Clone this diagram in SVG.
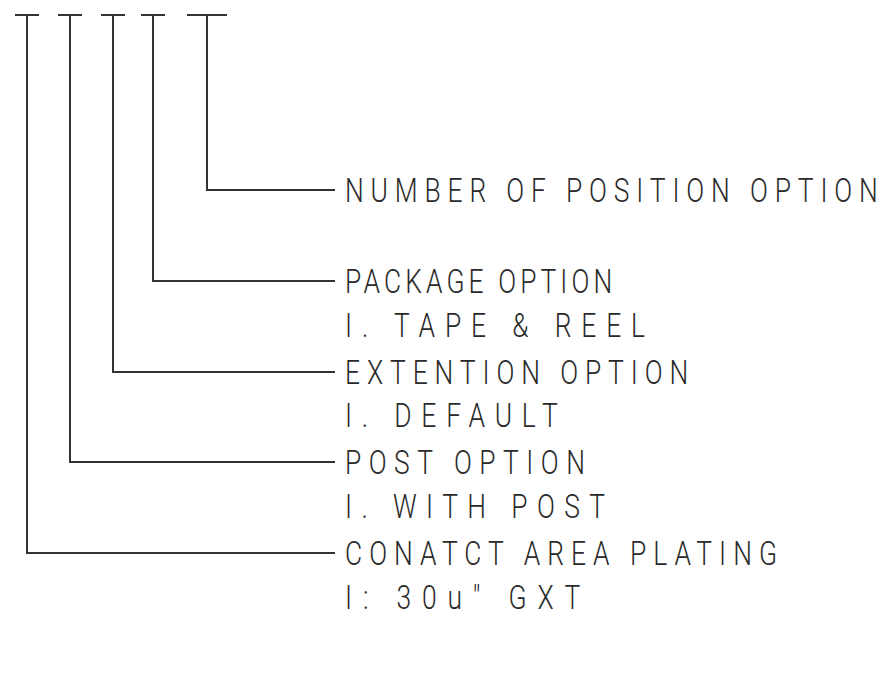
<svg xmlns="http://www.w3.org/2000/svg" width="889" height="675" viewBox="0 0 889 675">
<style>
.ln{fill:none;stroke:#333;stroke-width:2}
.t{font-family:Roboto,"Liberation Sans",sans-serif;font-weight:300;font-size:33px;fill:#2a2a2a}
</style>
<rect width="889" height="675" fill="#fff"/>
<g id="connectors">
<path class="ln" d="M15 15H39M27 15V553H335"/>
<path class="ln" d="M58 15H82M70 15V462H335"/>
<path class="ln" d="M101 15H125M113 15V372H335"/>
<path class="ln" d="M141 15H165M153 15V281H335"/>
<path class="ln" d="M187 15H227M207 15V190H335"/>
</g>
<g id="number">
<text class="t" transform="translate(345,202) scale(0.8,1)" textLength="666" lengthAdjust="spacing">NUMBER OF POSITION OPTION</text>
</g>
<g id="package">
<text class="t" transform="translate(345,293) scale(0.8,1)" textLength="334" lengthAdjust="spacing">PACKAGE OPTION</text>
<text class="t" transform="translate(345,337) scale(0.8,1)" textLength="375" lengthAdjust="spacing">I. TAPE &amp; REEL</text>
</g>
<g id="extention">
<text class="t" transform="translate(345,384) scale(0.8,1)" textLength="429" lengthAdjust="spacing">EXTENTION OPTION</text>
<text class="t" transform="translate(345,427) scale(0.8,1)" textLength="266" lengthAdjust="spacing">I. DEFAULT</text>
</g>
<g id="post">
<text class="t" transform="translate(345,474) scale(0.8,1)" textLength="300" lengthAdjust="spacing">POST OPTION</text>
<text class="t" transform="translate(345,518) scale(0.8,1)" textLength="325" lengthAdjust="spacing">I. WITH POST</text>
</g>
<g id="plating">
<text class="t" transform="translate(345,565) scale(0.8,1)" textLength="540" lengthAdjust="spacing">CONATCT AREA PLATING</text>
<text class="t" transform="translate(345,609) scale(0.8,1)" textLength="294" lengthAdjust="spacing">I: 30u" GXT</text>
</g>
</svg>
